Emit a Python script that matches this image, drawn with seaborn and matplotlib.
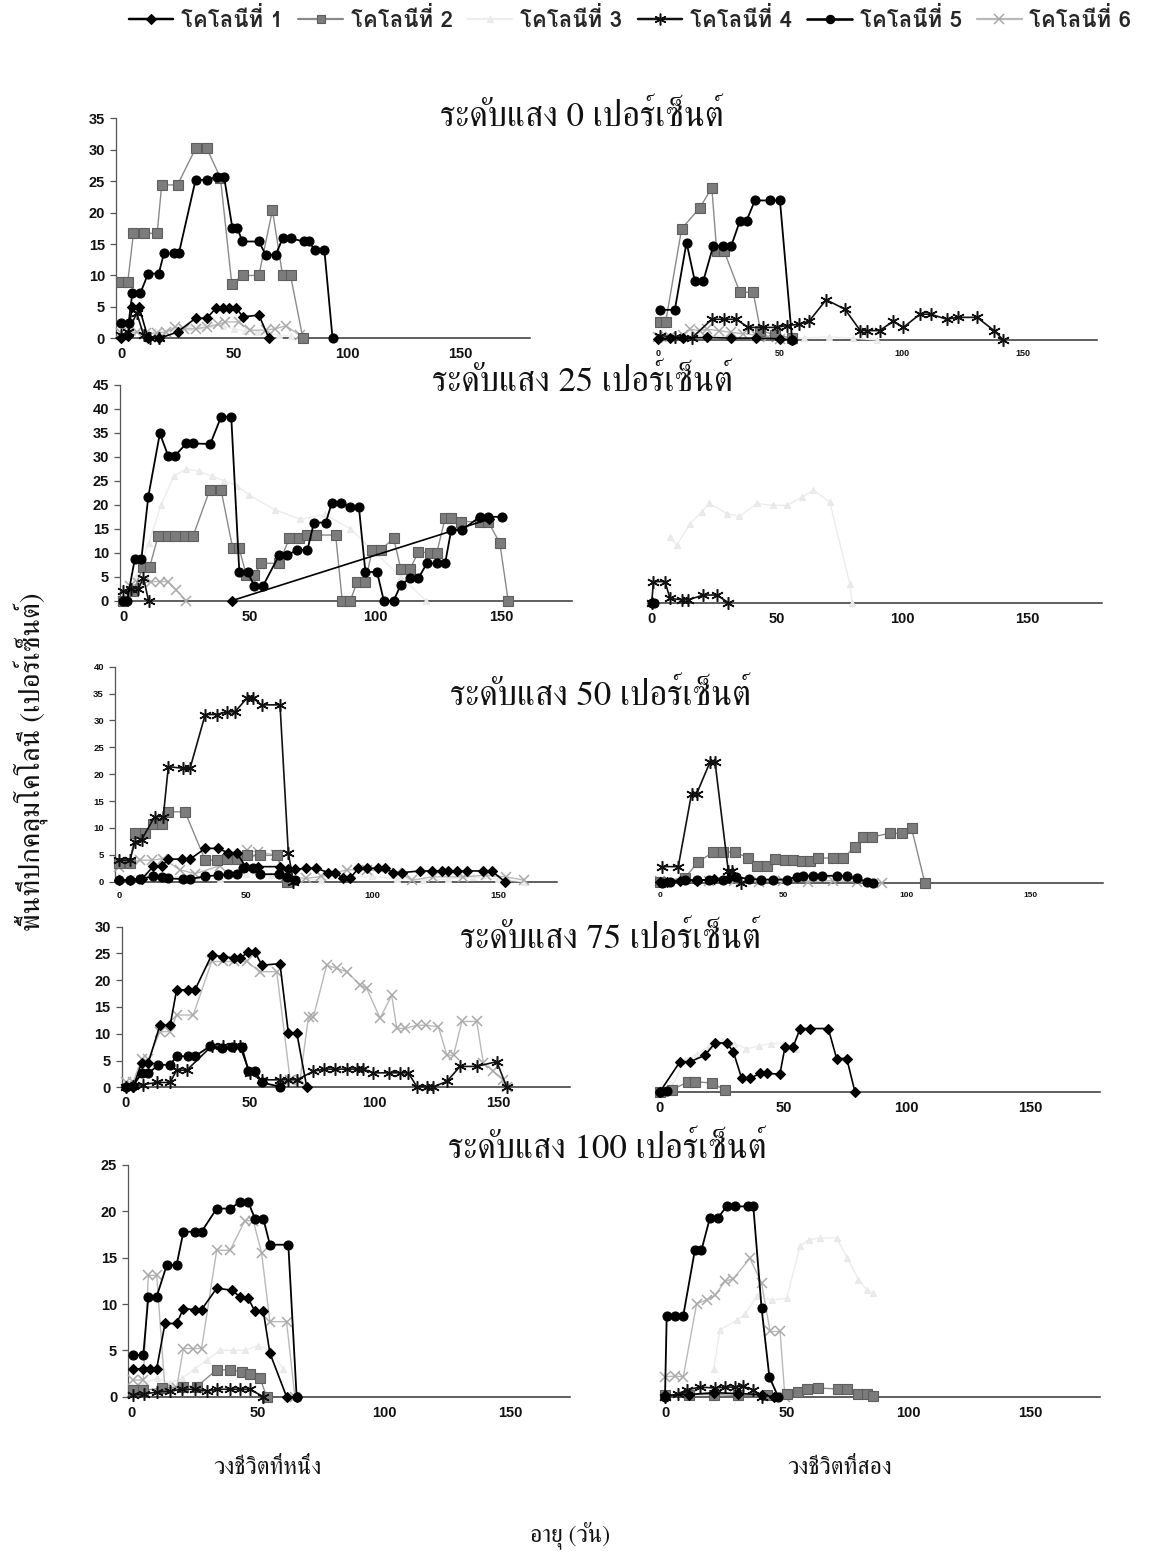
import matplotlib
matplotlib.use("Agg")
import matplotlib.pyplot as plt
from matplotlib.lines import Line2D
from matplotlib import font_manager
from matplotlib.ft2font import FT2Font
import numpy as np
import pandas as pd
import seaborn as sns

# ---------------------------------------------------------------------------
# Colony cover (%) against age (days); light levels 0/25/50/75/100 %,
# first (a) and second (b) life cycle, colonies 1-6.
# ---------------------------------------------------------------------------
colonies = ["โคโลนีที่ 1", "โคโลนีที่ 2", "โคโลนีที่ 3", "โคโลนีที่ 4", "โคโลนีที่ 5", "โคโลนีที่ 6"]
light_levels = ["0", "25", "50", "75", "100"]
x_ticks = [0, 50, 100, 150]

# ---- light 0 %, first cycle
day_0a_1 = [0, 3, 5, 8, 12, 17, 25, 33, 38, 42, 45, 48, 51, 54, 61, 65.5]
cov_0a_1 = [0, 0.3, 5, 5, 0, 0, 1, 3.2, 3.2, 4.8, 4.8, 4.8, 4.8, 3.4, 3.7, 0]
day_0a_2 = [0, 3, 5.5, 10, 16, 18, 25, 33, 38, 44, 49, 54, 61, 67, 71.5, 75, 80.5]
cov_0a_2 = [9, 9, 16.7, 16.7, 16.7, 24.4, 24.4, 30.2, 30.2, 25.5, 8.7, 10, 10, 20.4, 10, 10, 0]
day_0a_3 = [0, 5, 10, 15, 20, 25, 30, 35, 40, 45, 50, 55, 60, 65, 70, 75, 80]
cov_0a_3 = [0.5, 1, 0.8, 1.2, 1, 1.5, 1.8, 2, 2.2, 2, 1.5, 1.2, 1, 0.8, 0.5, 0.3, 0]
day_0a_4 = [0, 3, 7, 10, 13, 17]
cov_0a_4 = [0.5, 1, 4, 0.5, 0, 0]
day_0a_5 = [0, 3.4, 5, 8.6, 12, 16.7, 19, 23.4, 25.6, 33, 38, 42.6, 45.6, 49.3, 51.5, 53.7,
            61, 64, 68.5, 71.5, 75, 81, 83, 86, 90, 93.6]
cov_0a_5 = [2.5, 2.5, 7.2, 7.2, 10.3, 10.3, 13.5, 13.5, 13.5, 25.2, 25.2, 25.7, 25.7, 17.5, 17.5, 15.4,
            15.4, 13.3, 13.3, 15.9, 15.9, 15.4, 15.4, 14, 14, 0]
day_0a_6 = [0, 3, 7, 11, 16, 20, 24, 28, 33, 38, 43, 46, 52, 57, 64, 68, 73, 79]
cov_0a_6 = [0.8, 0.8, 1, 0.8, 0.8, 1, 1.8, 1.5, 1.5, 1.8, 2.2, 2.6, 2.6, 1.3, 1.3, 1.5, 2, 0.5]

# ---- light 0 %, second cycle
day_0b_1 = [0, 5, 10, 20, 30, 40, 50, 55]
cov_0b_1 = [0.2, 0.3, 0.3, 0.4, 0.3, 0.3, 0.2, 0]
day_0b_2 = [0.5, 3, 9.6, 17, 22, 24, 27, 33.5, 39, 42, 48, 55]
cov_0b_2 = [2.8, 2.8, 17.7, 21, 24.2, 14.2, 14.2, 7.6, 7.6, 1.5, 0.8, 0.3]
day_0b_3 = [0, 10, 20, 30, 40, 50, 60, 70, 80, 90]
cov_0b_3 = [0.3, 0.5, 0.8, 0.5, 0.3, 0.2, 0.3, 0.5, 0.3, 0]
day_0b_4 = [0.7, 7, 13.7, 22, 27, 32, 37, 43, 48.6, 52.7, 58, 62, 69, 76.7, 83, 85.6, 91, 96.6,
            100.7, 107.5, 112, 118.5, 123, 131, 138, 141.8]
cov_0b_4 = [0.7, 0.5, 0.3, 3.3, 3.3, 3.3, 2, 2, 2, 2.3, 2.5, 3, 6.4, 4.9, 1.5, 1.5, 1.5, 3,
            2, 4.1, 4.1, 3.3, 3.6, 3.6, 1.5, 0]
day_0b_5 = [0.7, 6.8, 11.6, 15, 18.5, 22.6, 26.7, 30, 33.6, 36.3, 39.7, 46, 50, 55]
cov_0b_5 = [4.8, 4.8, 15.5, 9.4, 9.4, 15, 15, 15, 19, 19, 22.2, 22.2, 22.2, 0]
day_0b_6 = [0, 5, 10, 13, 17, 20, 25, 30, 35, 40, 45, 50]
cov_0b_6 = [0.5, 0.5, 0.8, 1.7, 1.5, 1.7, 1.5, 1.2, 1, 0.8, 0.4, 0.2]

# ---- light 25 %, first cycle
day_25a_1 = [43, 145]
cov_25a_1 = [0, 17]
day_25a_2 = [0, 4, 7.9, 10.5, 13.8, 17.8, 20.4, 24.3, 27.6, 34.2, 38.8, 43.4, 46, 48.7, 52, 54.6,
             61.8, 65.8, 69.7, 73, 76.3, 84.2, 86.8, 90, 92.8, 96, 98.7, 102, 107.2, 110, 113.8,
             117, 121.7, 124.3, 127.6, 130, 134, 141.4, 144.7, 149.3, 152.6]
cov_25a_2 = [0, 2, 7.1, 7.1, 13.5, 13.5, 13.4, 13.4, 13.4, 23, 23, 10.9, 10.9, 5.4, 5.4, 7.8,
             7.8, 13, 13, 13.7, 13.7, 13.7, 0, 0, 4, 4, 10.6, 10.6, 13, 6.7, 6.7,
             10.2, 10, 10, 17.2, 17.2, 16.5, 16.5, 16.5, 12, 0]
day_25a_3 = [5, 10, 15, 20, 25, 30, 35, 40, 45, 50, 60, 70, 80, 90, 100, 110, 120]
cov_25a_3 = [5, 12, 20, 26, 27.5, 27, 26, 25, 24, 22, 19, 17, 18, 15, 10, 5, 0]
day_25a_4 = [0, 3, 6, 8, 10]
cov_25a_4 = [2, 2.5, 2.5, 4.8, 0]
day_25a_5 = [0, 1.5, 4.6, 7.2, 9.9, 14.5, 17.8, 20.4, 25, 27.6, 34.5, 38.8, 42.8, 46, 49.3, 52,
             55.3, 61.8, 65, 69, 73, 75.6, 80.3, 82.6, 86.2, 90, 93.4, 96, 100.6, 103.3, 107.2,
             110, 113.8, 117, 120.4, 124.3, 127.6, 130, 134.2, 141.4, 144.7, 150]
cov_25a_5 = [0, 0, 8.8, 8.8, 21.7, 34.9, 30.2, 30.2, 32.8, 32.8, 32.7, 38.4, 38.4, 6, 6, 3,
             3, 9.5, 9.5, 10.6, 10.6, 16.3, 16.3, 20.3, 20.3, 19.6, 19.6, 6, 6, 0, 0,
             3.3, 4.7, 4.7, 7.8, 7.8, 7.8, 14.7, 14.7, 17.5, 17.5, 17.5]
day_25a_6 = [0, 2.6, 5.9, 11, 14.5, 17.8, 21, 25]
cov_25a_6 = [0, 3, 3.6, 4, 4, 4, 2.2, 0]

# ---- light 25 %, second cycle
day_25b_3 = [7.3, 10, 15.3, 20, 23, 30, 35, 42, 48.5, 54, 60, 64.5, 71, 79, 80]
cov_25b_3 = [13.8, 12, 16.5, 19, 20.7, 18.6, 18, 20.7, 20.3, 20.3, 22, 23.5, 21, 4, 0]
day_25b_4 = [0, 0.7, 5.3, 7.3, 12, 14.6, 20.6, 26, 30.6]
cov_25b_4 = [0, 4.4, 4.4, 0.9, 0.6, 0.6, 1.6, 1.6, 0]
day_25b_5 = [0, 1]
cov_25b_5 = [0, 0]

# ---- light 50 %, first cycle
day_50a_1 = [0, 4.2, 9, 13.5, 16.8, 19.4, 24.7, 28, 34, 39, 43, 46.4, 50, 55, 63.6, 66.9, 69.5,
             74, 78, 82.7, 85.4, 88.7, 91.3, 94.6, 98, 102.5, 105, 108.4, 112, 119, 123.6, 127.6,
             130, 133.5, 137.5, 144, 147.4, 152.6]
cov_50a_1 = [0.3, 0.3, 0.5, 2.9, 2.9, 4.2, 4.2, 4.2, 6.2, 6.2, 5.4, 5.4, 2.8, 2.8, 2.8, 2.3, 2.3,
             2.5, 2.5, 1.7, 1.7, 0.6, 0.6, 2.5, 2.5, 2.5, 2.5, 1.7, 1.7, 2, 2, 2,
             2, 2, 2, 2, 2, 0]
day_50a_2 = [0, 4.2, 6.2, 10.2, 13.5, 16.8, 19.4, 26, 34, 38.5, 42.5, 46.4, 50.4, 55.7, 62.3, 66.2]
cov_50a_2 = [3.4, 3.4, 9.1, 9.1, 10.8, 10.8, 13, 13, 4, 4, 4.3, 4.3, 4.9, 4.9, 4.9, 0]
day_50a_3 = [0, 10, 20, 30, 40, 50, 60, 70, 80, 90, 100, 110, 120, 130, 140, 150, 160]
cov_50a_3 = [1, 1.2, 1, 0.8, 0.5, 1.5, 1.2, 0.5, 0.3, 0.8, 1, 0.5, 0.3, 0.5, 0.8, 0.5, 0]
day_50a_4 = [0, 4.2, 6.2, 8.8, 14, 17.4, 19.4, 25.3, 28, 34, 38.5, 42.5, 45.8, 50.4, 53, 56.3,
             63.6, 66.9, 68.9]
cov_50a_4 = [4, 4, 7.4, 7.8, 12.1, 12.1, 21.4, 21.1, 21.1, 31.1, 31.1, 31.6, 31.6, 34.1, 34.1, 32.9,
             32.9, 5.3, 0]
day_50a_5 = [0, 4.2, 8, 13.5, 16.8, 19.4, 25.3, 28, 34, 39, 43, 46.4, 49, 53, 55.7, 63, 66.2, 69.5]
cov_50a_5 = [0.3, 0.4, 0.5, 1, 0.9, 0.6, 0.5, 0.5, 1, 1.2, 1.4, 1.4, 2.5, 2.5, 1.4, 1.4, 0.9, 0.3]
day_50a_6 = [0, 4, 8.2, 12.8, 17.4, 24, 30, 40, 50.4, 55, 62, 66, 74, 80, 90, 98, 110, 116, 124,
             136, 145, 153, 160]
cov_50a_6 = [2.8, 3.5, 4, 4, 4.3, 2.2, 1.5, 3, 5.9, 5.5, 5, 1, 0.6, 1, 2.2, 2.2, 1.7, 0.3, 0.9,
             0.9, 1.2, 0.9, 0.3]

# ---- light 50 %, second cycle
day_50b_1 = [0, 3, 8, 15, 22, 28]
cov_50b_1 = [0.3, 0.3, 0.5, 0.5, 0.8, 1]
day_50b_2 = [0, 10, 15.5, 21.6, 25.7, 30.4, 35.8, 39.2, 43.2, 46.6, 50.7, 54, 57.4, 60.8, 64.2,
             70.3, 74.3, 79, 82.4, 85.8, 93.2, 98, 102, 107.4]
cov_50b_2 = [0.3, 1, 4, 5.8, 5.8, 5.8, 4.7, 3.2, 3.2, 4.5, 4.3, 4.3, 4.2, 4.2, 4.7,
             4.7, 4.7, 6.8, 8.6, 8.6, 9.3, 9.3, 10.2, 0]
day_50b_4 = [0.7, 7.4, 12.8, 14.9, 20.3, 22.3, 27.7, 29, 33]
cov_50b_4 = [3.1, 3.1, 16.7, 16.7, 22.6, 22.6, 2.2, 2.2, 0]
day_50b_5 = [0.7, 4, 10, 15, 20, 25.7, 31, 36, 41, 46, 51.4, 55.4, 58, 62, 65.5, 71.6, 75.7,
             79.7, 83.8, 86.5]
cov_50b_5 = [0, 0.2, 0.6, 0.6, 0.6, 0.7, 1.2, 0.8, 0.7, 0.7, 0.7, 1.2, 1.4, 1.4, 1.4, 1.4, 1.4,
             0.9, 0.3, 0]
day_50b_6 = [0, 10, 20, 30, 40, 50, 60, 70, 80, 90]
cov_50b_6 = [0.5, 0.8, 0.5, 0.5, 0.3, 0.5, 0.3, 0.5, 0.3, 0]

# ---- light 75 %, first cycle
day_75a_1 = [0, 3, 6.4, 9.1, 13.8, 17.9, 20.5, 25.2, 27.9, 34.6, 39.3, 43.4, 46, 49.4, 52, 54.8,
             62.1, 65.5, 68.9, 72.9]
cov_75a_1 = [0, 0, 4.6, 4.6, 11.6, 11.6, 18.2, 18.2, 18.2, 24.7, 24.4, 24.1, 24.1, 25.3, 25.3, 22.8,
             23.1, 10.1, 10.1, 0]
day_75a_4 = [0, 3, 7, 12.5, 17.9, 20.5, 24.6, 34.6, 39.3, 43.4, 46, 50, 54.8, 62.1, 65.5, 68.9,
             75.6, 80, 84.3, 89, 93, 95.7, 99.7, 105.8, 110.5, 113.8, 117.2, 121.2, 123.9, 129.3,
             134.6, 141.3, 149.4, 153.4]
cov_75a_4 = [0, 0.3, 0.5, 0.9, 0.9, 3.2, 3.2, 7.7, 7.7, 7.7, 7.7, 2.6, 1.4, 1.4, 1.4, 1.4,
             3, 3.4, 3.4, 3.4, 3.4, 3.4, 2.7, 2.7, 2.7, 2.7, 0.1, 0.1, 0.1, 1.1,
             3.9, 3.9, 4.8, 0]
day_75a_5 = [0, 3, 6.4, 9.1, 13.2, 17.9, 20.5, 25.2, 27.9, 34, 38.7, 42.7, 46.7, 49.4, 52, 54.8, 62.1]
cov_75a_5 = [0, 0.3, 2.6, 2.6, 4.2, 4.2, 5.8, 5.8, 5.8, 7.7, 7.3, 7.6, 7.6, 3.1, 3.1, 0.9, 0.1]
day_75a_6 = [0, 3, 6.4, 9.1, 13.8, 17.9, 20.5, 27.2, 34.6, 39.3, 43.4, 48.7, 54, 60.8, 66.2, 70.2,
             73.6, 75.6, 80.9, 85, 89, 94.4, 97, 102.4, 107.1, 109.1, 112.5, 117.2, 121, 125.9,
             129.3, 132, 135.3, 141.3, 144, 148, 152, 153.4]
cov_75a_6 = [1, 1, 5.2, 5.2, 10.4, 10.4, 13.5, 13.5, 23.5, 23.5, 23.5, 23.5, 21.6, 21.6, 1.4, 1.4,
             13.2, 13.2, 22.8, 22.2, 21.6, 19.1, 18.5, 12.9, 17.2, 11, 11, 11.6, 11.6, 11.3,
             6, 6, 12.3, 12.3, 4.5, 3, 1.4, 0]

# ---- light 75 %, second cycle
day_75b_1 = [0, 8.1, 12.2, 18.2, 22.3, 27, 29.7, 33.1, 36.5, 40.5, 43.2, 48.6, 50.7, 54, 56.8,
             60.8, 68.2, 71.6, 75.7, 79]
cov_75b_1 = [0, 5.6, 5.6, 6.8, 9.1, 9.1, 7.5, 2.5, 2.5, 3.4, 3.4, 3.3, 8.4, 8.4, 11.8,
             11.8, 11.8, 6.2, 6.2, 0]
day_75b_2 = [0, 4.7, 11.5, 14.2, 21, 26.4]
cov_75b_2 = [0, 0.3, 1.9, 1.9, 1.6, 0.3]
day_75b_3 = [0, 5, 10, 15, 20, 25, 30, 35, 40, 45, 50, 55]
cov_75b_3 = [0.5, 1, 6, 7, 8.5, 9.5, 9, 8, 8.5, 9, 9, 8]
day_75b_5 = [0, 3]
cov_75b_5 = [0, 0.2]

# ---- light 100 %, first cycle
day_100a_1 = [0.7, 4.6, 7.3, 9.9, 13.2, 17.8, 20.5, 25.1, 27.7, 33.7, 39.6, 42.9, 46.2, 48.9, 52.2,
              54.8, 61.4, 65.4]
cov_100a_1 = [3, 3, 3, 3, 7.9, 7.9, 9.5, 9.4, 9.4, 11.7, 11.5, 10.8, 10.6, 9.2, 9.2,
              4.7, 0, 0]
day_100a_2 = [0.7, 4.6, 11.9, 20.5, 25.8, 33.7, 39, 43.6, 46.9, 50.9, 53.5]
cov_100a_2 = [0.7, 0.7, 0.9, 1.1, 1.1, 2.9, 2.9, 2.7, 2.5, 2, 0]
day_100a_3 = [0, 5, 10, 15, 20, 25, 30, 35, 40, 45, 50, 55, 60]
cov_100a_3 = [1, 1.5, 2, 1.5, 2, 3, 4, 5, 5, 5, 5.5, 5, 3]
day_100a_4 = [0.7, 5, 10, 15, 20, 25, 30, 33.7, 39, 43, 46.9, 52.2]
cov_100a_4 = [0.2, 0.3, 0.5, 0.6, 0.8, 0.8, 0.6, 0.8, 0.8, 0.8, 0.8, 0]
day_100a_5 = [0.7, 4.6, 6.6, 9.9, 13.9, 17.8, 20.5, 25.1, 27.7, 33.7, 39, 42.9, 46.2, 48.9, 52.2,
              54.8, 62.1, 65.4]
cov_100a_5 = [4.5, 4.5, 10.8, 10.8, 14.2, 14.2, 17.8, 17.8, 17.8, 20.3, 20.3, 21, 21, 19.2, 19.2,
              16.4, 16.4, 0]
day_100a_6 = [0.7, 4.6, 6.6, 9.9, 13.2, 17.8, 20.5, 24.4, 27.7, 33.7, 39, 44.9, 48.2, 51.5, 54.8,
              61.4, 64.7]
cov_100a_6 = [1.8, 1.8, 13.1, 13.1, 0.8, 0.9, 5.2, 5.2, 5.2, 15.8, 15.8, 19, 19, 15.5, 8.1,
              8.1, 0]

# ---- light 100 %, second cycle
day_100b_1 = [0, 10, 20, 30, 40, 45]
cov_100b_1 = [0.2, 0.3, 0.5, 0.4, 0.3, 0]
day_100b_2 = [0, 10, 20, 30, 41.8, 50, 54.8, 58.2, 63, 71.2, 74.7, 79.5, 82.9, 85.6]
cov_100b_2 = [0.2, 0.3, 0.3, 0.2, 0.2, 0.4, 0.6, 0.9, 1, 0.9, 0.9, 0.4, 0.4, 0.1]
day_100b_3 = [20, 22.6, 29.5, 33, 37.7, 44, 50, 55.5, 59, 63.7, 70.5, 75, 79.5, 82.9, 85.6]
cov_100b_3 = [3, 7.3, 8.3, 9, 10.9, 10.5, 10.7, 16.3, 17, 17.2, 17.2, 15, 12.7, 11.6, 11.2]
day_100b_4 = [0, 5.5, 8.9, 14.4, 20.5, 24.7, 28.8, 32.2, 36, 39.7]
cov_100b_4 = [0, 0.4, 0.8, 1.1, 1, 1.1, 1.1, 1.2, 0.8, 0]
day_100b_5 = [0, 0.7, 4.1, 7.5, 12.3, 15, 18.5, 21.9, 25.3, 28.8, 34.2, 36.3, 39.7, 42.9, 46.6]
cov_100b_5 = [0, 8.8, 8.8, 8.8, 15.9, 15.9, 19.4, 19.4, 20.6, 20.6, 20.6, 20.6, 9.6, 2.2, 0]
day_100b_6 = [0, 4.1, 7.5, 13, 17.1, 20.5, 24.7, 28.1, 34.9, 39.7, 43.2, 47.3, 49.3]
cov_100b_6 = [2.2, 2.3, 2.2, 10.1, 10.5, 11, 12.5, 12.8, 15, 12.3, 7.1, 7.1, 0]

# ---------------------------------------------------------------------------
# Long table built from the lists above
# ---------------------------------------------------------------------------
rows = []
for name, value in list(globals().items()):
    if name.startswith("day_"):
        key = name[4:]
        level, cycle = key.split("_")[0][:-1], key.split("_")[0][-1]
        colony = int(key.split("_")[1])
        for d, c in zip(value, globals()["cov_" + key]):
            rows.append({"level": level, "cycle": cycle, "colony": colony, "day": d, "cover": c})
data = pd.DataFrame(rows)

# ---------------------------------------------------------------------------
# Fonts
# ---------------------------------------------------------------------------
sns.set_theme(style="white")


def families_covering(text):
    found = []
    for entry in font_manager.fontManager.ttflist:
        if entry.name in found:
            continue
        try:
            cmap = FT2Font(entry.fname).get_charmap()
        except Exception:
            continue
        if all(ord(ch) in cmap for ch in text if not ch.isspace()):
            found.append(entry.name)
    return found


thai = families_covering("ระดับแสงเปอร์เซ็นต์โคลนีที่วงชีวิตหนึ่งสอายุพื้นปกคม")
thai_serif = [f for f in thai if "serif" in f.lower() and "sans" not in f.lower()]
thai_sans = [f for f in thai if f not in thai_serif]
SERIF_TH = thai_serif + thai_sans + ["DejaVu Serif", "DejaVu Sans"]
SANS_TH = thai_sans + thai_serif + ["DejaVu Sans"]
plt.rcParams["font.family"] = SANS_TH
NUM_FONT = ["Liberation Sans", "DejaVu Sans"]

# ---------------------------------------------------------------------------
# Series styles
# ---------------------------------------------------------------------------
STAR = (6, 2, 0)
styles = {
    1: dict(color="#000000", marker="D", ms=5.5, mfc="#000000", mec="#000000", mew=0.8, lw=1.2),
    2: dict(color="#8a8a8a", marker="s", ms=6.5, mfc="#7c7c7c", mec="#5e5e5e", mew=0.8, lw=1.0),
    3: dict(color="#ededed", marker="^", ms=5.0, mfc="#ececec", mec="#e8e8e8", mew=0.8, lw=1.0),
    4: dict(color="#111111", marker=STAR, ms=9, mfc="#111111", mec="#111111", mew=1.1, lw=1.2),
    5: dict(color="#000000", marker="o", ms=6.5, mfc="#000000", mec="#000000", mew=0.8, lw=1.3),
    6: dict(color="#b9b9b9", marker="x", ms=7, mfc="#b9b9b9", mec="#a9a9a9", mew=1.1, lw=1.0),
}

# ---------------------------------------------------------------------------
# Panel layout in pixels: spine-left, right end, x-zero, px per day,
# baseline, top, y max, tick label size
# ---------------------------------------------------------------------------
W, H = 1158, 1553
panels = {
    ("0", "a"): (116, 530, 121.0, 2.26, 338.3, 118.3, 35, 10.5),
    ("0", "b"): (655, 1097, 658.3, 2.433, 340.0, 120.0, 35, 6.5),
    ("25", "a"): (120, 572, 123.3, 2.522, 600.7, 385.0, 45, 10.5),
    ("25", "b"): (650, 1102, 651.7, 2.507, 602.7, 387.0, 45, 10.5),
    ("50", "a"): (115, 557, 119.3, 2.527, 881.7, 666.7, 40, 6.8),
    ("50", "b"): (657, 1103, 660.0, 2.467, 883.3, 668.3, 40, 6.0),
    ("75", "a"): (121.7, 570, 125.7, 2.484, 1087.3, 926.7, 30, 10.5),
    ("75", "b"): (657, 1100, 660.0, 2.467, 1091.7, 931.1, 30, 10.5),
    ("100", "a"): (128.3, 570, 131.7, 2.522, 1396.7, 1165.0, 25, 10.5),
    ("100", "b"): (662, 1100, 665.0, 2.433, 1397.3, 1165.6, 25, 10.5),
}

fig = plt.figure(figsize=(W / 100, H / 100), dpi=100)
fig.patch.set_facecolor("white")

for (level, cycle), (xl, xr, x0, ppu, yb, yt, ymax, tsize) in panels.items():
    ax = fig.add_axes([xl / W, 1 - yb / H, (xr - xl) / W, (yb - yt) / H])
    ax.set_facecolor("none")
    sub = data[(data.level == level) & (data.cycle == cycle)]
    for colony in [3, 6, 2, 4, 1, 5]:
        part = sub[sub.colony == colony]
        if part.empty:
            continue
        st = styles[colony]
        sns.lineplot(data=part, x="day", y="cover", ax=ax, estimator=None, sort=False,
                     color=st["color"], linewidth=st["lw"], marker=st["marker"],
                     markersize=st["ms"], markerfacecolor=st["mfc"],
                     markeredgecolor=st["mec"], markeredgewidth=st["mew"],
                     clip_on=False, zorder=3, legend=False)
    ax.set_xlim((xl - x0) / ppu, (xr - x0) / ppu)
    ax.set_ylim(0, ymax)
    ax.set_xticks(x_ticks)
    ax.set_xlabel("")
    ax.set_ylabel("")
    for side in ["top", "right"]:
        ax.spines[side].set_visible(False)
    ax.spines["bottom"].set_color("#333333")
    ax.spines["bottom"].set_linewidth(1.1)
    ax.tick_params(axis="x", direction="inout", length=5, width=0.9, color="#333333",
                   pad=4, labelsize=tsize)
    if cycle == "a":
        ax.set_yticks(np.arange(0, ymax + 1, 5))
        ax.spines["left"].set_color("#555555")
        ax.spines["left"].set_linewidth(0.9)
        ax.tick_params(axis="y", direction="out", length=4, width=0.9, color="#555555",
                       pad=4, labelsize=tsize, left=True)
    else:
        ax.spines["left"].set_visible(False)
        ax.set_yticks([])
    for lab in ax.get_xticklabels() + ax.get_yticklabels():
        lab.set_fontfamily(NUM_FONT)
        lab.set_fontweight("bold")
        lab.set_color("#111111")

# panel titles
title_pos = {"0": (582, 118), "25": (582, 383), "50": (600, 697), "75": (610, 940), "100": (607, 1150)}
for level in light_levels:
    px, py = title_pos[level]
    fig.text(px / W, 1 - py / H, f"ระดับแสง {level} เปอร์เซ็นต์", ha="center", va="center",
             fontsize=25, family=SERIF_TH, color="#111111")

# axis captions
fig.text(30 / W, 1 - 762 / H, "พื้นที่ปกคลุมโคโลนี (เปอร์เซ็นต์)", rotation=90,
         ha="center", va="center", fontsize=21, family=SERIF_TH, color="#111111")
fig.text(268 / W, 1 - 1468 / H, "วงชีวิตที่หนึ่ง", ha="center", va="center",
         fontsize=17, family=SERIF_TH, color="#111111")
fig.text(840 / W, 1 - 1468 / H, "วงชีวิตที่สอง", ha="center", va="center",
         fontsize=17, family=SERIF_TH, color="#111111")
fig.text(570 / W, 1 - 1535 / H, "อายุ (วัน)", ha="center", va="center",
         fontsize=17, family=SERIF_TH, color="#111111")

# legend across the top
handles = []
for i, name in enumerate(colonies, start=1):
    st = styles[i]
    handles.append(Line2D([0], [0], color=st["color"], lw=st["lw"] + 0.6, marker=st["marker"],
                          markersize=st["ms"] - 0.5, markerfacecolor=st["mfc"],
                          markeredgecolor=st["mec"], markeredgewidth=st["mew"]))
fig.legend(handles, colonies, loc="center", bbox_to_anchor=(630 / W, 1 - 19 / H), ncol=6,
           frameon=False, handlelength=2.0, handletextpad=0.35,
           columnspacing=0.7, prop={"family": SANS_TH, "size": 16, "weight": "bold"})

fig.savefig("out.png", dpi=100, facecolor="white")
